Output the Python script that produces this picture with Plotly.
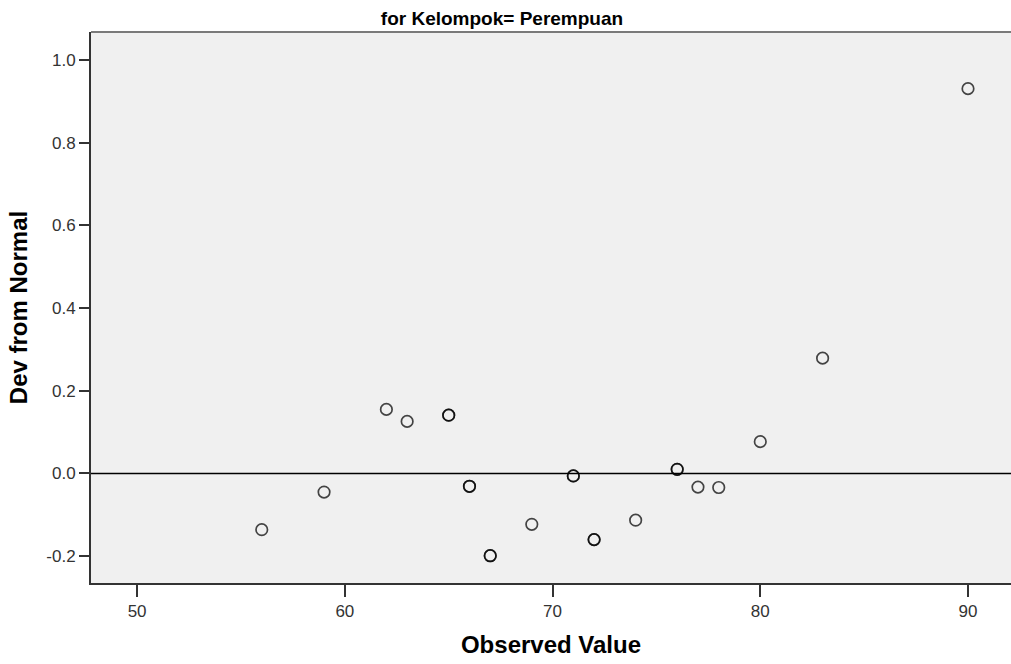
import plotly.graph_objects as go

observed = [56, 59, 62, 63, 65, 65, 66, 66, 67, 67, 69, 71, 71, 72, 72, 74, 76, 76, 77, 78, 80, 83, 90]
dev_from_normal = [-0.136, -0.045, 0.155, 0.126, 0.141, 0.141, -0.031, -0.031, -0.199, -0.199,
                   -0.123, -0.006, -0.006, -0.160, -0.160, -0.113, 0.010, 0.010, -0.033, -0.034,
                   0.077, 0.279, 0.931]
x_ticks = [50, 60, 70, 80, 90]
y_ticks = [-0.2, 0.0, 0.2, 0.4, 0.6, 0.8, 1.0]
y_tick_labels = ["-0.2", "0.0", "0.2", "0.4", "0.6", "0.8", "1.0"]

fig = go.Figure()
fig.add_trace(go.Scatter(
    x=observed, y=dev_from_normal, mode="markers",
    marker=dict(symbol="circle-open", size=11.5, color="rgba(0,0,0,0.72)",
                line=dict(width=1.7, color="rgba(0,0,0,0.72)")),
    showlegend=False, hoverinfo="x+y"))

fig.add_shape(type="line", xref="paper", yref="y", x0=0, x1=1, y0=0, y1=0,
              line=dict(color="black", width=1.6), layer="above")
fig.add_shape(type="line", xref="paper", yref="paper", x0=0, x1=1, y0=1, y1=1,
              line=dict(color="#7a7a7a", width=2), layer="above")

font_family = "Liberation Sans, Arial, sans-serif"
fig.update_layout(
    width=1011, height=664,
    margin=dict(l=91, r=0, t=32, b=81),
    paper_bgcolor="white", plot_bgcolor="#f0f0f0",
    font=dict(family=font_family, color="#222"),
    title=dict(text="<b>for Kelompok= Perempuan</b>", x=502 / 1011, xanchor="center",
               y=1 - 18 / 664, yanchor="middle",
               font=dict(size=19, color="black", family=font_family)),
    xaxis=dict(range=[47.78, 92.07], tickvals=x_ticks, ticks="outside", ticklen=12,
               tickwidth=2, tickcolor="#333", showgrid=False, zeroline=False,
               showline=True, linecolor="#333", linewidth=2, automargin=False,
               tickfont=dict(size=17, color="#333"),
               title=dict(text="<b>Observed Value</b>", standoff=16,
                          font=dict(size=24, color="black"))),
    yaxis=dict(range=[-0.265, 1.068], tickvals=y_ticks, ticktext=y_tick_labels,
               ticks="outside", ticklen=10, tickwidth=2, tickcolor="#333",
               showgrid=False, zeroline=False, showline=True, linecolor="#333",
               linewidth=2, automargin=False, tickfont=dict(size=17, color="#333"),
               title=dict(text="<b>Dev from Normal</b>", standoff=12,
                          font=dict(size=24, color="black"))),
)

fig.write_html("out.html", config={"displayModeBar": False},
               post_script="document.body.style.margin='0px';")
